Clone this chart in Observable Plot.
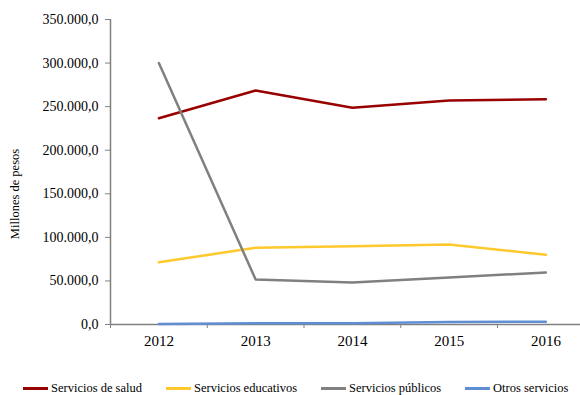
<!DOCTYPE html>
<html><head><meta charset="utf-8">
<script src="https://cdn.jsdelivr.net/npm/d3@7"></script>
<script src="https://cdn.jsdelivr.net/npm/@observablehq/plot@0.6"></script>
<style>
body{margin:0;background:#fff;font-family:'Liberation Serif','Times New Roman',serif;}
#chart{width:580px;height:350px;overflow:hidden;}
#legend{display:flex;gap:24px;padding-left:23px;margin-top:31px;font-size:12.5px;line-height:15px;color:#000;white-space:nowrap;}
#legend .item{display:flex;align-items:center;}
#legend .sw{width:25px;height:3px;margin-right:3px;}
</style></head><body>
<div id="chart"></div>
<div id="legend"></div>
<script>
const years = [2012, 2013, 2014, 2015, 2016];
const salud = [236700, 268500, 248700, 257000, 258500];
const educativos = [71500, 88000, 89900, 91800, 80000];
const publicos = [300000, 51600, 48200, 53900, 59700];
const otros = [500, 1500, 1500, 3000, 3200];
const seriesNames = ["Servicios de salud", "Servicios educativos", "Servicios públicos", "Otros servicios"];
const seriesValues = [salud, educativos, publicos, otros];
const colors = ["#990000", "#ffc92e", "#808080", "#5f8fd2"];
const yTicks = [0, 50000, 100000, 150000, 200000, 250000, 300000, 350000];
const yLabel = "Millones de pesos";

const locale = d3.formatLocale({decimal: ",", thousands: ".", grouping: [3], currency: ["$", ""]});
const fmt = locale.format(",.1f");

const data = seriesNames.flatMap((s, i) => years.map((yr, j) => ({series: s, year: yr, value: seriesValues[i][j]})));
const xMin = years[0] - 0.5, xMax = years[years.length - 1] + 0.5;
const boundaries = years.slice(0, -1).map(y => y + 0.5);

const chart = Plot.plot({
  width: 580,
  height: 350,
  marginTop: 19,
  marginBottom: 26,
  marginLeft: 110,
  marginRight: 0,
  style: {fontFamily: "'Liberation Serif', 'Times New Roman', serif", fontSize: "14px", color: "#000", background: "#fff"},
  x: {type: "linear", domain: [xMin, xMax], range: [110, 593.75]},
  y: {domain: [0, 350000]},
  color: {domain: seriesNames, range: colors},
  marks: [
    Plot.axisY({ticks: yTicks, tickSize: 5, tickPadding: 7, tickFormat: fmt, stroke: "#808080", strokeOpacity: 1, label: null, fontSize: 14}),
    Plot.text([yLabel], {frameAnchor: "left", textAnchor: "middle", dx: -96, dy: 22, rotate: -90, fontSize: 12.5, fill: "#000"}),
    Plot.axisX({ticks: years, tickSize: 0, tickPadding: 11, tickFormat: d => String(d), label: null, fontSize: 15}),
    Plot.axisX({ticks: [xMin, ...boundaries], tickSize: 4, tickFormat: () => "", stroke: "#808080", strokeOpacity: 1, label: null}),
    Plot.ruleX([xMin], {stroke: "#808080", strokeWidth: 1.5}),
    Plot.ruleY([0], {stroke: "#808080", strokeWidth: 1.5}),
    Plot.line(data, {x: "year", y: "value", z: "series", stroke: "series", strokeWidth: 2.5})
  ]
});
document.getElementById("chart").appendChild(chart);

const legend = document.getElementById("legend");
seriesNames.forEach((s, i) => {
  const it = document.createElement("div");
  it.className = "item";
  const sw = document.createElement("span");
  sw.className = "sw";
  sw.style.background = colors[i];
  const tx = document.createElement("span");
  tx.textContent = s;
  it.appendChild(sw); it.appendChild(tx);
  legend.appendChild(it);
});
</script>
</body></html>
